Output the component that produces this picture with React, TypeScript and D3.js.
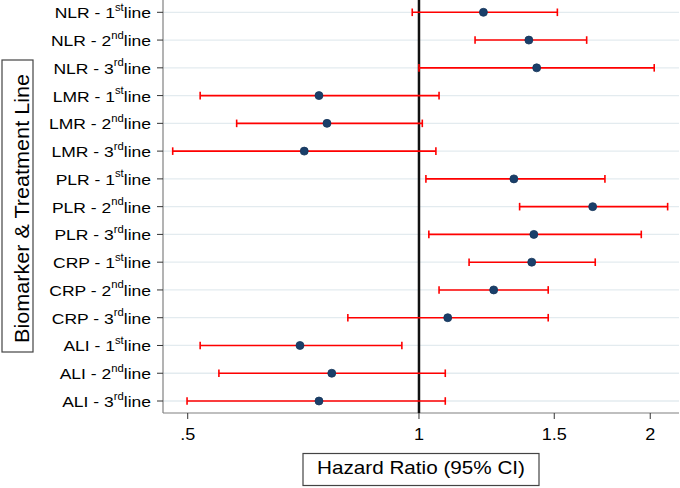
import React, { useRef, useEffect } from "react";
import * as d3 from "d3";

const biomarkers = ["NLR", "LMR", "PLR", "CRP", "ALI"];
const lineNums = ["1", "2", "3"];
const ordinals = ["st", "nd", "rd"];

// hazard ratio and 95% CI, row order top to bottom
const hr = [1.213, 1.39, 1.423, 0.741, 0.759, 0.709, 1.329, 1.683, 1.411, 1.402, 1.251, 1.09, 0.7, 0.77, 0.741];
const lower = [0.98, 1.183, 1.0, 0.519, 0.579, 0.478, 1.021, 1.352, 1.03, 1.162, 1.062, 0.808, 0.519, 0.549, 0.499];
const upper = [1.514, 1.653, 2.024, 1.062, 1.01, 1.052, 1.746, 2.107, 1.947, 1.696, 1.473, 1.473, 0.95, 1.082, 1.082];

const xTicks = [0.5, 1, 1.5, 2];
const xTickLabels = [".5", "1", "1.5", "2"];

interface Row {
  id: string;
  bio: string;
  num: string;
  ord: string;
  hr: number;
  lo: number;
  hi: number;
}

export default function App() {
  const ref = useRef<SVGSVGElement>(null);

  useEffect(() => {
    if (!ref.current) return;
    const svg = d3.select(ref.current);
    svg.selectAll("*").remove();
    const width = 680;
    const height = 488;
    const font = "Arial, 'Liberation Sans', sans-serif";
    const stretch = 1.13; // the original text is a bit wider than Liberation Sans

    const rows: Row[] = [];
    biomarkers.forEach((b, bi) => {
      lineNums.forEach((n, li) => {
        const i = bi * 3 + li;
        rows.push({ id: b + n, bio: b, num: n, ord: ordinals[li], hr: hr[i], lo: lower[i], hi: upper[i] });
      });
    });

    const left = 163, right = 679, top = 0, bottom = 413;

    const x = d3.scaleLog().domain([0.4643, 2.18]).range([left, right]);
    const y = d3.scalePoint<string>().domain(rows.map((r) => r.id)).range([12.3, 401]);

    svg.attr("width", width).attr("height", height).style("font-family", font);

    svg.append("rect").attr("width", width).attr("height", height).attr("fill", "white");

    // grid lines
    svg.append("g")
      .selectAll("line")
      .data(rows)
      .join("line")
      .attr("x1", left)
      .attr("x2", right)
      .attr("y1", (d) => y(d.id)!)
      .attr("y2", (d) => y(d.id)!)
      .attr("stroke", "#e3ebef")
      .attr("stroke-width", 1.3);

    // axes lines
    svg.append("line").attr("x1", left).attr("x2", left).attr("y1", top).attr("y2", bottom)
      .attr("stroke", "#808080").attr("stroke-width", 1.2);
    svg.append("line").attr("x1", left).attr("x2", right).attr("y1", bottom).attr("y2", bottom)
      .attr("stroke", "#808080").attr("stroke-width", 1.2);

    // y ticks + labels
    const yg = svg.append("g");
    yg.selectAll("line")
      .data(rows)
      .join("line")
      .attr("x1", left - 6)
      .attr("x2", left)
      .attr("y1", (d) => y(d.id)!)
      .attr("y2", (d) => y(d.id)!)
      .attr("stroke", "#333")
      .attr("stroke-width", 1);

    const lab = yg.selectAll("text")
      .data(rows)
      .join("text")
      .attr("transform", (d) => `translate(${left - 12},${y(d.id)! + 6}) scale(${stretch},1)`)
      .attr("text-anchor", "end")
      .attr("font-size", 15.5)
      .attr("fill", "#000");
    lab.append("tspan").text((d) => `${d.bio} - ${d.num}`);
    lab.append("tspan").attr("dy", -7.5).attr("font-size", 10).text((d) => d.ord);
    lab.append("tspan").attr("dy", 7.5).text("line");

    // x ticks
    const xg = svg.append("g");
    xg.selectAll("line")
      .data(xTicks)
      .join("line")
      .attr("x1", (d) => x(d))
      .attr("x2", (d) => x(d))
      .attr("y1", bottom)
      .attr("y2", bottom + 6)
      .attr("stroke", "#333");
    xg.selectAll("text")
      .data(xTicks)
      .join("text")
      .attr("transform", (d) => `translate(${x(d)},${bottom + 26.5}) scale(${stretch},1)`)
      .attr("text-anchor", "middle")
      .attr("font-size", 16)
      .text((d, i) => xTickLabels[i]);

    // reference line at HR = 1
    svg.append("line").attr("x1", x(1)).attr("x2", x(1)).attr("y1", top).attr("y2", bottom)
      .attr("stroke", "#111").attr("stroke-width", 2.5);

    // CI bars
    const ci = svg.append("g").attr("stroke", "#ff0000").attr("stroke-width", 1.6);
    ci.selectAll("line.bar")
      .data(rows)
      .join("line")
      .attr("class", "bar")
      .attr("x1", (d) => x(d.lo))
      .attr("x2", (d) => x(d.hi))
      .attr("y1", (d) => y(d.id)!)
      .attr("y2", (d) => y(d.id)!);
    ci.selectAll("line.lo")
      .data(rows)
      .join("line")
      .attr("class", "lo")
      .attr("x1", (d) => x(d.lo))
      .attr("x2", (d) => x(d.lo))
      .attr("y1", (d) => y(d.id)! - 3.8)
      .attr("y2", (d) => y(d.id)! + 3.8);
    ci.selectAll("line.hi")
      .data(rows)
      .join("line")
      .attr("class", "hi")
      .attr("x1", (d) => x(d.hi))
      .attr("x2", (d) => x(d.hi))
      .attr("y1", (d) => y(d.id)! - 3.8)
      .attr("y2", (d) => y(d.id)! + 3.8);

    // point estimates
    svg.append("g")
      .selectAll("circle")
      .data(rows)
      .join("circle")
      .attr("cx", (d) => x(d.hr))
      .attr("cy", (d) => y(d.id)!)
      .attr("r", 4)
      .attr("fill", "#1a3f6a")
      .attr("stroke", "#16365b")
      .attr("stroke-width", 0.8);

    // y axis title in a box
    svg.append("rect").attr("x", 2).attr("y", 60).attr("width", 31).attr("height", 292)
      .attr("fill", "white").attr("stroke", "#444").attr("stroke-width", 1.2);
    svg.append("text")
      .attr("transform", `translate(29,208.5) rotate(-90)`)
      .attr("text-anchor", "middle")
      .attr("font-size", 19.5)
      .attr("textLength", 269)
      .attr("lengthAdjust", "spacingAndGlyphs")
      .text("Biomarker & Treatment Line");

    // x axis title in a box
    svg.append("rect").attr("x", 303).attr("y", 453.5).attr("width", 236).attr("height", 32)
      .attr("fill", "white").attr("stroke", "#444").attr("stroke-width", 1.2);
    svg.append("text")
      .attr("x", 421)
      .attr("y", 473.5)
      .attr("text-anchor", "middle")
      .attr("font-size", 18.5)
      .attr("textLength", 208)
      .attr("lengthAdjust", "spacingAndGlyphs")
      .text("Hazard Ratio (95% CI)");
  }, []);

  return <svg ref={ref} style={{ position: "absolute", left: 0, top: 0 }} />;
}
